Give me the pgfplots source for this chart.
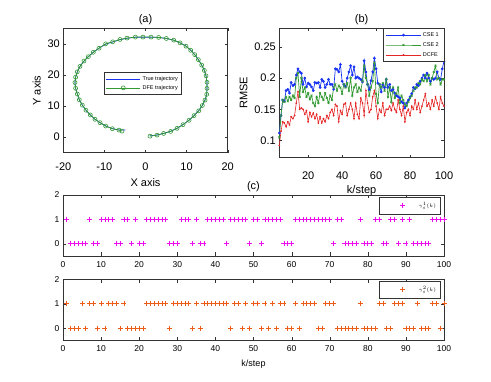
\documentclass[border=0pt]{standalone}
\usepackage{pgfplots}
\pgfplotsset{compat=1.18}
\usepackage{pgfplotstable}
\usepackage{fontspec}
\setmainfont{Liberation Sans}

\definecolor{mblue}{rgb}{0.1,0.2,0.95}
\definecolor{mgreen}{rgb}{0.2,0.6,0.2}
\definecolor{mred}{rgb}{0.9,0.15,0.15}
\definecolor{mmag}{rgb}{0.92,0.05,0.92}
\definecolor{morange}{rgb}{0.92,0.36,0.1}

% trajectory, panel (a)
\pgfplotstableread{
x y
1.10 0.32
2.80 0.65
4.42 1.19
6.13 1.84
7.67 2.82
9.13 4.01
10.59 5.42
11.81 6.93
12.94 8.45
13.83 10.18
14.48 11.91
14.89 13.75
14.97 15.70
14.97 17.65
14.73 19.71
14.32 21.44
13.67 23.18
12.86 24.91
11.97 26.54
10.99 27.94
9.86 29.24
8.40 30.33
6.86 31.19
5.07 31.73
3.20 32.06
1.34 32.17
-0.61 32.17
-2.47 32.17
-4.50 31.84
-6.21 31.41
-7.99 30.65
-9.70 30.00
-11.32 28.59
-12.70 27.29
-13.91 25.88
-14.97 24.48
-15.94 22.74
-16.59 21.01
-17.00 19.28
-17.16 17.55
-17.00 15.70
-16.59 13.86
-16.10 12.02
-15.37 10.29
-14.48 8.66
-13.43 7.15
-12.29 5.74
-11.07 4.66
-9.70 3.57
-8.07 2.71
-6.45 2.27
-5.72 1.95
}\dfetraj

\pgfplotstableread{
x y
1.00 0.40
2.80 0.70
4.42 1.22
6.13 1.90
7.67 2.85
9.13 4.05
10.59 5.45
11.81 6.95
12.94 8.50
13.83 10.20
14.48 11.95
14.89 13.75
14.97 15.70
14.97 17.65
14.73 19.70
14.32 21.45
13.67 23.20
12.86 24.95
11.97 26.55
10.99 27.95
9.86 29.25
8.40 30.35
6.86 31.20
5.07 31.75
3.20 32.05
1.34 32.15
-0.61 32.15
-2.47 32.10
-4.50 31.80
-6.21 31.35
-7.99 30.60
-9.70 29.90
-11.32 28.60
-12.70 27.30
-13.91 25.90
-14.97 24.45
-15.94 22.75
-16.59 21.00
-17.00 19.30
-17.16 17.55
-17.00 15.70
-16.59 13.85
-16.10 12.00
-15.37 10.30
-14.48 8.65
-13.43 7.15
-12.29 5.75
-11.07 4.65
-9.70 3.60
-8.07 2.75
-6.45 2.30
-4.90 2.30
}\truetraj

% RMSE, panel (b)
\pgfplotstableread{
k cse1 cse2 dcfe
3 0.112 0.105 0.092
4 0.140 0.140 0.115
5 0.165 0.165 0.130
6 0.163 0.162 0.128
7 0.180 0.170 0.122
8 0.182 0.163 0.130
9 0.176 0.170 0.125
10 0.193 0.165 0.138
11 0.188 0.172 0.135
12 0.190 0.168 0.140
13 0.205 0.200 0.160
14 0.215 0.208 0.178
15 0.210 0.170 0.150
16 0.208 0.200 0.152
17 0.190 0.178 0.150
18 0.200 0.185 0.142
19 0.186 0.170 0.148
20 0.192 0.176 0.130
21 0.190 0.166 0.145
22 0.186 0.172 0.138
23 0.180 0.160 0.144
24 0.193 0.155 0.135
25 0.192 0.170 0.142
26 0.193 0.160 0.128
27 0.185 0.176 0.138
28 0.198 0.170 0.128
29 0.195 0.165 0.135
30 0.185 0.176 0.130
31 0.190 0.168 0.140
32 0.198 0.160 0.135
33 0.190 0.172 0.145
34 0.190 0.165 0.150
35 0.182 0.185 0.140
36 0.215 0.190 0.158
37 0.214 0.180 0.155
38 0.210 0.188 0.130
39 0.222 0.185 0.148
40 0.195 0.175 0.142
41 0.190 0.190 0.158
42 0.186 0.185 0.160
43 0.200 0.192 0.140
44 0.210 0.180 0.150
45 0.220 0.200 0.160
46 0.205 0.172 0.150
47 0.218 0.185 0.135
48 0.200 0.190 0.160
49 0.202 0.178 0.142
50 0.200 0.185 0.135
51 0.198 0.180 0.168
52 0.194 0.195 0.160
53 0.228 0.220 0.140
54 0.210 0.200 0.180
55 0.190 0.190 0.160
56 0.182 0.172 0.145
57 0.196 0.185 0.150
58 0.210 0.195 0.170
59 0.232 0.225 0.180
60 0.215 0.175 0.155
61 0.192 0.160 0.135
62 0.190 0.190 0.150
63 0.178 0.185 0.145
64 0.190 0.192 0.160
65 0.185 0.180 0.140
66 0.198 0.198 0.150
67 0.185 0.170 0.150
68 0.190 0.185 0.155
69 0.180 0.162 0.148
70 0.182 0.185 0.160
71 0.176 0.168 0.150
72 0.172 0.175 0.145
73 0.170 0.185 0.165
74 0.168 0.160 0.150
75 0.162 0.172 0.140
76 0.160 0.165 0.155
77 0.152 0.158 0.130
78 0.160 0.155 0.145
79 0.165 0.162 0.150
80 0.170 0.168 0.140
81 0.175 0.172 0.155
82 0.185 0.180 0.150
83 0.183 0.185 0.165
84 0.190 0.185 0.150
85 0.188 0.192 0.160
86 0.195 0.190 0.145
87 0.200 0.198 0.155
88 0.205 0.195 0.165
89 0.200 0.205 0.175
90 0.208 0.195 0.155
91 0.200 0.205 0.160
92 0.195 0.190 0.150
93 0.200 0.200 0.165
94 0.198 0.210 0.155
95 0.200 0.220 0.170
96 0.210 0.198 0.160
97 0.200 0.200 0.150
98 0.198 0.190 0.170
99 0.215 0.198 0.160
100 0.227 0.198 0.155
}\rmse

% switching sequences, panel (c)
\pgfplotstableread{
k g1 g2
1 1 1
2 0 0
3 0 0
4 0 0
5 0 1
6 0 0
7 1 1
8 0 1
9 0 0
10 1 1
11 1 0
12 1 1
13 1 1
14 0 1
15 0 0
16 1 1
17 1 0
18 0 0
19 1 0
20 0 0
21 0 0
22 1 1
23 1 1
24 1 1
25 1 1
26 1 1
27 1 1
28 0 0
29 0 1
30 0 1
31 1 1
32 1 1
33 1 1
34 0 0
35 1 1
36 0 0
37 0 1
38 1 1
39 1 1
40 1 1
41 1 1
42 1 1
43 0 1
44 1 0
45 1 1
46 1 1
47 1 0
48 1 1
49 0 0
50 1 1
51 1 1
52 0 0
53 1 1
54 1 0
55 1 1
56 1 0
57 1 1
58 0 1
59 0 0
60 0 0
61 1 1
62 1 0
63 1 1
64 1 1
65 1 1
66 1 1
67 1 0
68 1 0
69 1 1
70 1 1
71 0 1
72 1 0
73 1 0
74 0 0
75 0 0
76 0 0
77 0 0
78 1 1
79 0 0
80 0 0
81 0 0
82 1 0
83 1 1
84 0 1
85 0 0
86 1 0
87 1 1
88 0 1
89 1 1
90 0 0
91 1 0
92 0 0
93 0 1
94 0 0
95 0 0
96 0 0
97 1 1
98 1 1
99 1 0
100 1 1
}\gammas

\pgfplotsset{
  mat/.style={
    scale only axis, anchor=south west,
    axis line style={black!80}, tick style={black!80},
    tick align=inside, major tick length=2.5pt,
    /pgf/number format/assume math mode=true,
    tick label style={font=\fontsize{11}{13}\selectfont},
    label style={font=\fontsize{11}{13}\selectfont},
    title style={font=\fontsize{11}{13}\selectfont},
    every axis title shift=0pt,
    legend cell align=left,
    legend image code/.code={\draw[mark repeat=2, mark phase=2]
      plot coordinates {(0cm,0cm) (0.6cm,0cm) (1.2cm,0cm)};},
  },
  smallmat/.style={
    scale only axis, anchor=south west,
    axis line style={black!80}, tick style={black!80},
    tick align=inside, major tick length=3.5pt,
    /pgf/number format/assume math mode=true,
    every axis title shift=0pt,
    title style={font=\fontsize{11}{13}\selectfont},
    tick label style={font=\fontsize{8.5}{10}\selectfont},
    xticklabel style={yshift=-2pt},
    label style={font=\fontsize{9}{11}\selectfont},
    xmin=0, xmax=100, ymin=-0.5, ymax=2,
    xtick={0,10,...,100}, ytick={0,1,2},
    xticklabels={0,10,20,30,40,50,60,70,80,90,100},
    xticklabel pos=lower,
    width=381pt, height=61pt,
    legend style={at={(0.99,0.97)}, anchor=north east, draw=black!80,
      font=\fontsize{5}{6}\selectfont, inner xsep=2pt, inner ysep=3pt},
    legend image code/.code={\path (0cm,0cm) (0.95cm,0cm);
      \draw plot coordinates {(0.75cm,0cm)};},
  },
}

\begin{document}
\begin{tikzpicture}
\path[use as bounding box] (0pt,0pt) rectangle (491pt,382pt);

% (a)
\begin{axis}[mat, at={(63.3pt,229.3pt)}, width=164.4pt, height=124.4pt,
  xmin=-20, xmax=20, ymin=-5, ymax=35,
  xtick={-20,-10,0,10,20}, ytick={0,10,20,30},
  xticklabel style={yshift=-7pt},
  title={(a)}, xlabel={X axis}, ylabel={Y axis},
  xlabel style={yshift=-1pt},
  legend style={at={(0.248,0.645)}, anchor=north west, draw=black!80,
    font=\fontsize{5.5}{6.5}\selectfont, inner sep=1.5pt, row sep=-0.5pt},
]
\addplot[mblue, line width=0.7pt] table[x=x, y=y] {\truetraj};
\addlegendentry{True trajectory}
\addplot[mgreen, line width=0.7pt, mark=o, mark size=2pt,
  mark options={line width=0.6pt}] table[x=x, y=y] {\dfetraj};
\addlegendentry{DFE trajectory}
\end{axis}

% (b)
\begin{axis}[mat, at={(279.3pt,224.7pt)}, width=164.7pt, height=129pt,
  xmin=3, xmax=100, ymin=0.073, ymax=0.28,
  xtick={20,40,60,80,100}, ytick={0.1,0.15,0.2,0.25},
  yticklabel style={/pgf/number format/.cd, fixed, precision=2},
  xticklabel style={yshift=-11pt},
  title={(b)}, xlabel={k/step}, ylabel={RMSE},
  xlabel style={yshift=1pt},
  legend style={at={(1,1)}, anchor=north east, draw=black!80,
    font=\fontsize{5.5}{6.5}\selectfont, inner xsep=3pt, inner ysep=2pt,
    row sep=0.5pt},
]
\addplot[mblue, line width=0.7pt, mark=*, mark size=1pt] table[x=k, y=cse1] {\rmse};
\addlegendentry{CSE 1}
\addplot[mgreen, line width=0.7pt, mark=x, mark size=1.3pt] table[x=k, y=cse2] {\rmse};
\addlegendentry{CSE 2}
\addplot[mred, line width=0.6pt, mark=*, mark size=0.55pt] table[x=k, y=dcfe] {\rmse};
\addlegendentry{DCFE}
\end{axis}

% (c) upper
\begin{axis}[smallmat, at={(63pt,126pt)}, title={(c)}]
\addplot[only marks, mmag, mark=+, mark size=2.5pt, line width=0.8pt]
  table[x=k, y=g1] {\gammas};
\addlegendentry{\hspace{8pt}$\gamma_s^1(k)$}
\end{axis}

% (c) lower
\begin{axis}[smallmat, at={(63pt,41.7pt)}, xlabel={k/step},
  xlabel style={yshift=-1pt}]
\addplot[only marks, morange, mark=+, mark size=2.5pt, line width=0.8pt]
  table[x=k, y=g2] {\gammas};
\addlegendentry{\hspace{8pt}$\gamma_s^2(k)$}
\end{axis}
\end{tikzpicture}
\end{document}
